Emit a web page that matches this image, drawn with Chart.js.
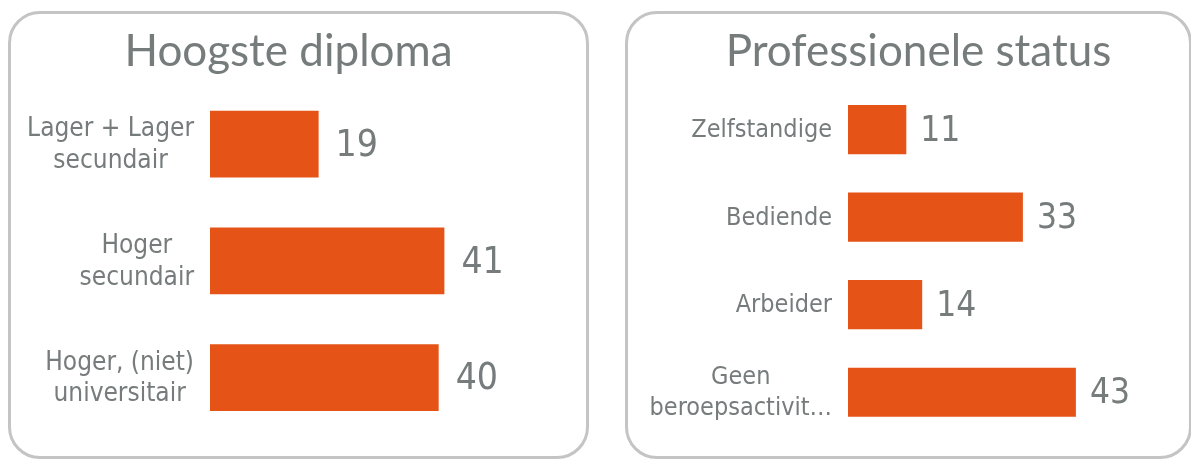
<!DOCTYPE html>
<html><head><meta charset="utf-8">
<script src="https://cdn.jsdelivr.net/npm/chart.js@4.4.1/dist/chart.umd.min.js"></script>
<style>
html,body{margin:0;padding:0;background:#fff}
body{width:1191px;height:461px;overflow:hidden;position:relative}
.box{position:absolute;border:3px solid #c4c4c4;border-radius:32px;box-sizing:border-box}
#b1{left:8px;top:11px;width:581px;height:448px}
#b2{left:625px;top:11px;width:567px;height:448px}
canvas{position:absolute;top:0}
#c1{left:0}
#c2{left:600px}
</style>
</head><body>
<div class="box" id="b1"></div>
<div class="box" id="b2"></div>
<canvas id="c1" width="596" height="461"></canvas>
<canvas id="c2" width="591" height="461"></canvas>
<script>
const diplomaTitle = "Hoogste diploma";
const diplomaLabels = [["Lager + Lager", "secundair"], ["Hoger", "secundair"], ["Hoger, (niet)", "universitair"]];
const diplomaValues = [19, 41, 40];

const statusTitle = "Professionele status";
const statusLabels = ["Zelfstandige", "Bediende", "Arbeider", ["Geen", "beroepsactivit…"]];
const statusValues = [11, 33, 14, 43];

const axisMax = 60;
const BAR = '#E55317';
const GREY = '#767b7b';

const labelPlugin = {
  id: 'labelsDraw',
  afterDatasetsDraw(chart, args, o) {
    const ctx = chart.ctx;
    const ys = chart.scales.y;
    const meta = chart.getDatasetMeta(0);
    ctx.save();
    ctx.fillStyle = GREY;
    // category labels: block right-aligned, lines centered within the block
    ctx.font = o.tickSize + 'px "DejaVu Sans Condensed", "DejaVu Sans", sans-serif';
    ctx.textBaseline = 'middle';
    ctx.textAlign = 'center';
    const right = chart.chartArea.left - o.tickPad;
    chart.data.labels.forEach((lab, i) => {
      const lines = Array.isArray(lab) ? lab : [lab];
      const w = Math.max(...lines.map(l => ctx.measureText(l).width));
      const cx = right - w / 2;
      const cy = ys.getPixelForValue(i);
      const lh = o.tickSize * 1.22;
      lines.forEach((l, k) => {
        ctx.fillText(l, cx, cy + (k - (lines.length - 1) / 2) * lh + 1);
      });
    });
    // value labels
    ctx.font = o.valSize + 'px "DejaVu Sans Condensed", "DejaVu Sans", sans-serif';
    ctx.textAlign = 'left';
    meta.data.forEach((bar, i) => {
      ctx.fillText(String(chart.data.datasets[0].data[i]), bar.x + o.valOff, bar.y + 2);
    });
    ctx.restore();
  }
};

function make(id, title, labels, values, cfg) {
  return new Chart(document.getElementById(id), {
    type: 'bar',
    data: {
      labels: labels,
      datasets: [{
        data: values,
        backgroundColor: BAR,
        borderWidth: 0,
        categoryPercentage: 1,
        barPercentage: cfg.barPct
      }]
    },
    options: {
      indexAxis: 'y',
      responsive: false,
      animation: false,
      devicePixelRatio: 1,
      layout: { padding: { left: cfg.padL, right: cfg.padR, top: 0, bottom: 25 } },
      scales: {
        x: { display: false, min: 0, max: axisMax },
        y: {
          display: true,
          grid: { display: false, drawTicks: false },
          border: { display: false },
          ticks: { display: false },
          afterFit(s) { s.width = cfg.axisW; }
        }
      },
      plugins: {
        legend: { display: false },
        tooltip: { enabled: false },
        title: {
          display: true,
          text: title,
          color: GREY,
          font: { family: 'Lato', size: 44, weight: 'normal', lineHeight: 1.2 },
          padding: { top: 25, bottom: 8 }
        },
        labelsDraw: { tickSize: cfg.tickSize, tickPad: cfg.tickPad, valSize: cfg.valSize, valOff: cfg.valOff }
      }
    },
    plugins: [labelPlugin]
  });
}

make('c1', diplomaTitle, diplomaLabels, diplomaValues,
  { padL: 24, padR: 43, axisW: 186, barPct: 0.571, tickSize: 26, tickPad: 16, valSize: 37, valOff: 17 });
make('c2', statusTitle, statusLabels, statusValues,
  { padL: 71, padR: 25, axisW: 177, barPct: 0.561, tickSize: 25, tickPad: 16, valSize: 35, valOff: 14 });
</script>
</body></html>
